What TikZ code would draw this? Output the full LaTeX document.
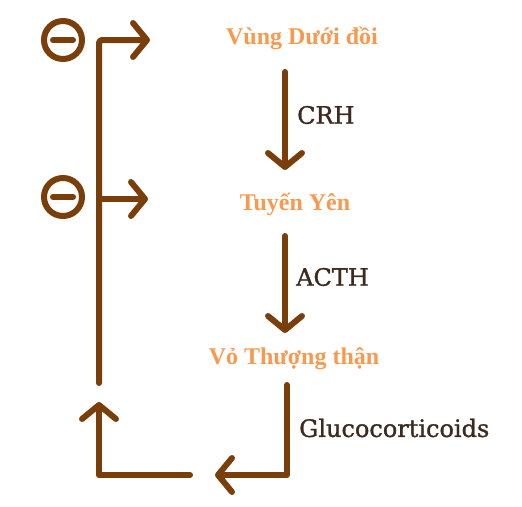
\documentclass[tikz,border=0pt]{standalone}
\usepackage{fontspec}
\setmainfont{Liberation Serif}
\newfontfamily\labfont[FakeBold=1.2]{DejaVu Serif}
\usetikzlibrary{arrows.meta}
\definecolor{brn}{HTML}{7A3E0B}
\definecolor{org}{HTML}{F9994F}
\definecolor{dtxt}{HTML}{3C2A1E}
\tikzset{
  organ/.style={font=\fontsize{24}{26}\selectfont\bfseries, text=org, inner sep=0pt},
  hormone/.style={font=\labfont\fontsize{24}{26}\selectfont, text=dtxt, inner sep=0pt, anchor=west},
  flow/.style={draw=brn, line width=6pt, line cap=round, line join=round,
    -{Straight Barb[length=14pt,width=34pt,line cap=round,line join=round]}},
  minus/.style={draw=brn, line width=6pt}
}
\begin{document}
\begin{tikzpicture}[x=1pt,y=-1pt]
\useasboundingbox (0,0) rectangle (522,506);
% organ labels
\node[organ] (vung) at (302,38) {Vùng Dưới đồi};
\node[organ] (tuyen) at (295,204) {Tuyến Yên};
\node[organ] (vo) at (294,359) {Vỏ Thượng thận};
% hormone labels
\node[hormone] (crh) at (297,115) {CRH};
\node[hormone] (acth) at (296,277) {ACTH};
\node[hormone] (gluco) at (299,428) {Glucocorticoids};
% coordinates
\coordinate (a1s) at (285,72);
\coordinate (a1e) at (285,170);
\coordinate (a2s) at (285,236);
\coordinate (a2e) at (285,333);
\coordinate (gs) at (287,385);
\coordinate (gc) at (287,475);
\coordinate (ge) at (215,475);
\coordinate (fs) at (190,475);
\coordinate (fc) at (99,475);
\coordinate (fe) at (99,402);
\coordinate (vb) at (99,383);
\coordinate (vt) at (99,40);
\coordinate (t1) at (150,40);
\coordinate (m2) at (99,199);
\coordinate (t2) at (148,199);
% main chain
\draw[flow] (a1s) -- (a1e);
\draw[flow] (a2s) -- (a2e);
\draw[flow] (gs) -- (gc) -- (ge);
\draw[flow] (fs) -- (fc) -- (fe);
% feedback
\draw[flow, rounded corners=3pt] (vb) -- (vt) -- (t1);
\draw[flow] (m2) -- (t2);
% minus signs
\node[minus, circle, minimum size=38pt, inner sep=0pt] (n1) at (63,40) {};
\draw[minus, line cap=round] (53,40) -- (73,40);
\node[minus, circle, minimum size=38pt, inner sep=0pt] (n2) at (63,197) {};
\draw[minus, line cap=round] (53,197) -- (73,197);
\end{tikzpicture}
\end{document}
